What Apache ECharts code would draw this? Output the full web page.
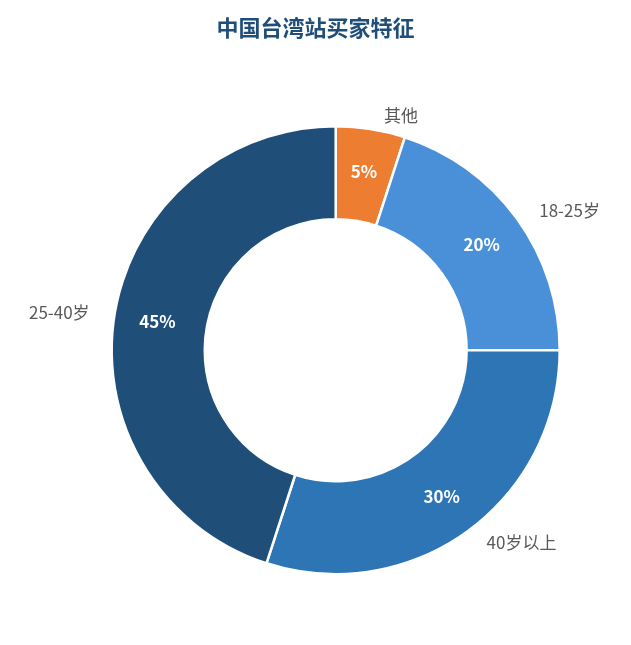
<!DOCTYPE html>
<html><head><meta charset="utf-8">
<script src="https://cdn.jsdelivr.net/npm/echarts@6/dist/echarts.min.js"></script>
<style>html,body{margin:0;padding:0;background:#fff}#c{width:631px;height:645px}</style>
</head><body><div id="c"></div>
<script>
const categories = ['其他', '18-25岁', '40岁以上', '25-40岁'];
const values = [5, 20, 30, 45];
const colors = ['#ED7D31', '#4A90D9', '#2E75B6', '#1F4E79'];
const data = categories.map((n, i) => ({ name: n, value: values[i], itemStyle: { color: colors[i] } }));
const font = '"Noto Sans CJK SC", "Noto Sans", sans-serif';
const chart = echarts.init(document.getElementById('c'));
chart.setOption({
  animation: false,
  title: { text: '中国台湾站买家特征', left: 'center', top: 12,
    textStyle: { color: '#1F4E79', fontSize: 22, fontWeight: 'bold', fontFamily: font } },
  series: [
    { type: 'pie', radius: ['41.5%', '71%'], center: ['53.2%', '54.3%'],
      itemStyle: { borderColor: '#fff', borderWidth: 2.5 },
      label: { position: 'inside', formatter: '{c}%', color: '#fff', fontSize: 17, fontWeight: 'bold', fontFamily: font },
      labelLine: { show: false }, data: data },
    { type: 'pie', radius: ['41.5%', '71%'], center: ['53.2%', '54.3%'], silent: true,
      itemStyle: { color: 'transparent' },
      label: { position: 'outside', formatter: '{b}', color: '#595959', fontSize: 17, fontFamily: font },
      labelLine: { show: false, length: 14, length2: 6 },
      data: data.map(d => ({ name: d.name, value: d.value, itemStyle: { color: 'transparent' } })) }
  ]
});
</script></body></html>
